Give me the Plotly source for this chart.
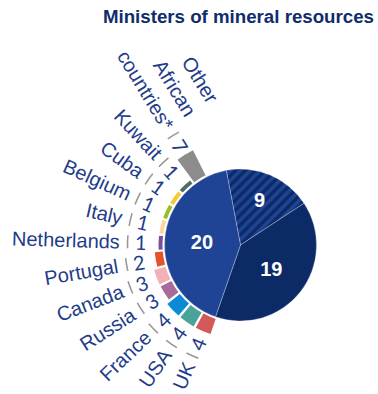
import math
import plotly.graph_objects as go

# ---------------- data ----------------
title_text = "Ministers of mineral resources"

slice_labels = ["Group B (hatched)", "Group C", "Group A"]
slice_values = [9, 19, 20]

countries = ["UK", "USA", "France", "Russia", "Canada", "Portugal",
             "Netherlands", "Italy", "Belgium", "Cuba", "Kuwait",
             "Other<br>African<br>countries*"]
country_values = [4, 4, 4, 3, 3, 2, 1, 1, 1, 1, 1, 7]

# ---------------- styles ----------------
country_colors = ["#d35a58", "#49a39b", "#0a8bd3", "#a96a9c", "#f4b0b7", "#e2542b",
                  "#7a4f9f", "#fcd89a", "#98bf1f", "#f6c935", "#4f6b66", "#8c8c8c"]
MID_BLUE = "#1f4496"
DARK_BLUE = "#0b2a66"
TEXT_BLUE = "#1f3d8a"
TITLE_BLUE = "#0f2d6b"
SEP_GREY = "#999999"
NAME_FONT = "Liberation Sans"
NUM_FONT = "Lato"
FS = 20
LINE_H = 1.3 * FS

W_PX, H_PX = 378, 394
CX, CY = 240.5, 245.0
R_PIE = 76
RING_BASE = 78
PX_PER_UNIT = 4
START_ANGLE = 203.5
STEP = 11.36
BAR_WIDTH = 9.8
POLAR_HALF = 136

HELV = dict(zip("abcdefghijklmnopqrstuvwxyz",
                [556, 556, 500, 556, 556, 278, 556, 556, 222, 222, 500, 222, 833,
                 556, 556, 556, 556, 333, 500, 278, 556, 500, 722, 500, 500, 500]))
HELV.update(dict(zip("ABCDEFGHIJKLMNOPQRSTUVWXYZ",
                     [667, 667, 722, 722, 667, 611, 778, 722, 278, 500, 667, 556, 833,
                      722, 778, 667, 778, 722, 667, 611, 722, 667, 944, 667, 667, 611])))
HELV.update({" ": 278, "*": 389})


def text_width(s, size):
    return max(sum(HELV.get(c, 556) for c in line) / 1000 * size
               for line in s.split("<br>"))


def to_px(r, theta):
    t = math.radians(theta)
    return CX + r * math.sin(t), CY - r * math.cos(t)


def px_to_paper(px, py):
    return px / W_PX, 1 - py / H_PX


thetas = [START_ANGLE + i * STEP for i in range(len(countries))]
num_r = [100 + 2.6 * (v - 1) for v in country_values]
sep_r = [r + 13 for r in num_r]
name_end_r = [r + 8 for r in sep_r]

fig = go.Figure()

# main pie
fig.add_trace(go.Pie(
    labels=slice_labels, values=slice_values, sort=False,
    direction="clockwise", rotation=-10.8,
    textinfo="value", insidetextorientation="horizontal",
    textfont=dict(family=NAME_FONT, size=FS, color="white", weight="bold"),
    marker=dict(colors=[MID_BLUE, DARK_BLUE, MID_BLUE],
                line=dict(color="rgba(255,255,255,0.35)", width=0.8),
                pattern=dict(shape=["/", "", ""], fgcolor=[DARK_BLUE, DARK_BLUE, MID_BLUE],
                             bgcolor=[MID_BLUE, DARK_BLUE, MID_BLUE], size=7,
                             solidity=0.5, fillmode="replace")),
    domain=dict(x=[(CX - R_PIE) / W_PX, (CX + R_PIE) / W_PX],
                y=[1 - (CY + R_PIE) / H_PX, 1 - (CY - R_PIE) / H_PX]),
    showlegend=False, hoverinfo="label+value",
))

# country ring bars
fig.add_trace(go.Barpolar(
    r=[v * PX_PER_UNIT for v in country_values], theta=thetas,
    base=[RING_BASE] * len(countries), width=[BAR_WIDTH] * len(countries),
    marker=dict(color=country_colors, line=dict(width=0)),
    text=[c.replace("<br>", " ") for c in countries], hoverinfo="text",
    showlegend=False,
))

# separators
fig.add_trace(go.Barpolar(
    r=[1.6] * len(countries), theta=thetas,
    base=[r - 0.8 for r in sep_r],
    width=[13 / r * 180 / math.pi for r in sep_r],
    marker=dict(color=SEP_GREY, line=dict(width=0)),
    hoverinfo="skip", showlegend=False,
))

annotations = []
for name, v, th, rn, re_ in zip(countries, country_values, thetas, num_r, name_end_r):
    ang = th - 270
    a = math.radians(ang)
    x, y = px_to_paper(*to_px(rn, th))
    annotations.append(dict(x=x, y=y, xref="paper", yref="paper", text=str(v),
                            showarrow=False, textangle=ang, xanchor="center",
                            yanchor="middle",
                            font=dict(family=NUM_FONT, size=FS, color=TEXT_BLUE)))
    w = text_width(name, FS)
    n_lines = name.count("<br>") + 1
    px, py = to_px(re_ + w / 2, th)
    # last line ends at the anchor radius; earlier lines stack "above" it
    shift = (n_lines - 1) / 2 * LINE_H
    px += shift * math.sin(a)
    py -= shift * math.cos(a)
    x, y = px_to_paper(px, py)
    annotations.append(dict(x=x, y=y, xref="paper", yref="paper", text=name,
                            showarrow=False, textangle=ang, xanchor="center",
                            yanchor="middle", align="right",
                            font=dict(family=NAME_FONT, size=FS, color=TEXT_BLUE)))

fig.update_layout(
    width=W_PX, height=H_PX,
    margin=dict(l=0, r=0, t=0, b=0),
    paper_bgcolor="white", plot_bgcolor="white",
    title=dict(text=title_text, x=374 / W_PX, xanchor="right", y=1 - 16 / H_PX,
               yanchor="middle",
               font=dict(family=NAME_FONT, size=18.7, color=TITLE_BLUE, weight="bold")),
    polar=dict(
        domain=dict(x=[(CX - POLAR_HALF) / W_PX, (CX + POLAR_HALF) / W_PX],
                    y=[1 - (CY + POLAR_HALF) / H_PX, 1 - (CY - POLAR_HALF) / H_PX]),
        bgcolor="rgba(0,0,0,0)",
        radialaxis=dict(range=[0, POLAR_HALF], visible=False),
        angularaxis=dict(rotation=90, direction="clockwise", visible=False),
    ),
    annotations=annotations,
)

fig.write_html("out.html")
